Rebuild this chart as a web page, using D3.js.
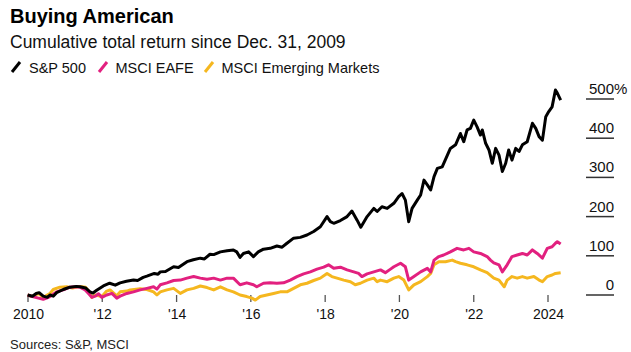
<!DOCTYPE html>
<html>
<head>
<meta charset="utf-8">
<script src="https://cdn.jsdelivr.net/npm/d3@7"></script>
<style>
  body { margin: 0; background: #fff; }
  svg { display: block; font-family: "Liberation Sans", Arial, sans-serif; }
  .axis text { font-family: "Liberation Sans", Arial, sans-serif; fill: #111; }
  .x-axis text { font-size: 14px; }
  .y-axis text { font-size: 15px; }
</style>
</head>
<body>
<div id="chart"></div>
<script>
// series names + colours (legend order)
var seriesNames = ["S&P 500", "MSCI EAFE", "MSCI Emerging Markets"];
var seriesColors = ["#000000", "#e2207f", "#f5b71f"];

// cumulative total return (%); dates as decimal years
var spYears = [2009.99,2010.12,2010.22,2010.3,2010.41,2010.52,2010.59,2010.68,2010.77,2010.95,2011.13,2011.3,2011.4,2011.55,2011.67,2011.75,2011.85,2012.03,2012.2,2012.35,2012.48,2012.65,2012.84,2012.95,2013.1,2013.2,2013.4,2013.5,2013.56,2013.7,2013.92,2014.05,2014.28,2014.45,2014.64,2014.75,2014.9,2015.0,2015.18,2015.36,2015.53,2015.62,2015.71,2015.8,2015.94,2016.07,2016.2,2016.34,2016.52,2016.7,2016.84,2016.97,2017.15,2017.33,2017.51,2017.69,2017.87,2018.05,2018.14,2018.23,2018.41,2018.59,2018.72,2018.86,2018.96,2019.13,2019.31,2019.4,2019.53,2019.67,2019.85,2019.98,2020.07,2020.16,2020.25,2020.34,2020.48,2020.57,2020.66,2020.75,2020.84,2020.93,2021.02,2021.15,2021.29,2021.37,2021.51,2021.64,2021.73,2021.82,2021.91,2022.0,2022.09,2022.18,2022.23,2022.32,2022.41,2022.5,2022.59,2022.68,2022.77,2022.86,2022.94,2023.03,2023.13,2023.22,2023.31,2023.44,2023.58,2023.67,2023.76,2023.85,2023.94,2024.02,2024.11,2024.2,2024.25,2024.34];
var spValues = [0,-3,4,6,-3,-6,0,-3,6,14,20,22,21,18,8,5,12,23,30,25,31,35,38,37,45,48,55,53,59,60,72,70,85,90,94,92,104,103,110,113,115,110,96,106,110,98,110,117,119,125,122,132,145,147,153,162,174,200,187,183,190,200,214,191,173,200,221,213,225,221,234,251,259,242,187,221,242,255,293,281,268,302,323,327,357,374,383,412,391,421,425,446,429,408,421,387,370,336,374,357,315,336,370,344,374,366,383,391,438,425,404,395,455,468,480,523,515,497];

var eafeYears = [2009.99,2010.12,2010.28,2010.41,2010.5,2010.59,2010.77,2010.95,2011.13,2011.27,2011.4,2011.54,2011.63,2011.72,2011.81,2011.9,2011.99,2012.12,2012.26,2012.39,2012.48,2012.66,2012.84,2013.02,2013.2,2013.38,2013.47,2013.56,2013.74,2013.92,2014.1,2014.28,2014.46,2014.64,2014.82,2015.0,2015.18,2015.36,2015.53,2015.71,2015.89,2016.07,2016.16,2016.34,2016.52,2016.7,2016.88,2017.06,2017.24,2017.42,2017.6,2017.78,2017.96,2018.09,2018.23,2018.41,2018.59,2018.77,2018.9,2018.99,2019.13,2019.31,2019.49,2019.62,2019.76,2019.85,2020.03,2020.16,2020.25,2020.39,2020.57,2020.75,2020.84,2020.93,2021.06,2021.19,2021.37,2021.55,2021.73,2021.87,2022.0,2022.18,2022.36,2022.45,2022.54,2022.68,2022.77,2022.9,2023.03,2023.17,2023.31,2023.44,2023.58,2023.71,2023.85,2023.98,2024.11,2024.2,2024.25,2024.34];
var eafeValues = [0,-4,-8,-11,-8,-4,8,13,20,21,20,13,4,-6,-3,3,-6,0,4,-8,-3,4,8,13,17,21,15,26,31,37,38,43,47,43,40,43,38,43,43,26,31,26,21,30,31,30,31,38,47,54,59,66,71,77,68,71,64,59,55,47,54,59,64,57,66,72,81,72,38,47,59,68,59,89,98,102,110,119,115,119,110,106,98,89,82,77,59,77,98,102,106,102,115,106,94,119,123,132,136,130];

var emYears = [2009.99,2010.12,2010.28,2010.41,2010.59,2010.68,2010.86,2011.04,2011.2,2011.4,2011.55,2011.65,2011.72,2011.81,2011.99,2012.12,2012.21,2012.39,2012.48,2012.66,2012.75,2013.02,2013.2,2013.38,2013.47,2013.56,2013.74,2013.92,2014.1,2014.28,2014.46,2014.64,2014.82,2015.0,2015.18,2015.36,2015.53,2015.71,2015.89,2016.03,2016.12,2016.25,2016.43,2016.61,2016.79,2016.97,2017.15,2017.33,2017.51,2017.69,2017.87,2018.05,2018.18,2018.32,2018.5,2018.68,2018.81,2018.95,2019.13,2019.31,2019.4,2019.49,2019.67,2019.85,2019.98,2020.12,2020.25,2020.39,2020.57,2020.75,2020.84,2020.93,2021.06,2021.24,2021.42,2021.51,2021.64,2021.82,2022.0,2022.18,2022.36,2022.54,2022.68,2022.82,2022.9,2023.03,2023.17,2023.31,2023.44,2023.62,2023.76,2023.85,2023.98,2024.11,2024.2,2024.34];
var emValues = [0,-4,4,-6,4,14,20,21,18,22,20,8,-6,0,-4,10,13,-2,8,10,13,16,14,8,0,8,13,17,4,13,17,23,19,13,21,13,8,0,-4,-8,-13,-4,0,4,8,8,17,26,30,37,43,55,47,43,38,34,26,30,38,43,34,38,34,43,47,38,13,26,34,47,55,77,85,85,89,85,81,77,72,64,57,43,38,21,38,47,43,47,43,47,38,34,47,51,55,57];

// axis ticks
var xTickYears = [2010, 2012, 2014, 2016, 2018, 2020, 2022, 2024];
var xTickLabels = ["2010", "'12", "'14", "'16", "'18", "'20", "'22", "2024"];
var yTickValues = [0, 100, 200, 300, 400, 500];

function yearToDate(y) {
    var yr = Math.floor(y);
    var start = new Date(yr, 0, 1), end = new Date(yr + 1, 0, 1);
    return new Date(+start + (y - yr) * (end - start));
}

var seriesData = [
    { name: seriesNames[0], color: seriesColors[0], values: spYears.map(function(d, i){ return { date: yearToDate(d), value: spValues[i] }; }) },
    { name: seriesNames[1], color: seriesColors[1], values: eafeYears.map(function(d, i){ return { date: yearToDate(d), value: eafeValues[i] }; }) },
    { name: seriesNames[2], color: seriesColors[2], values: emYears.map(function(d, i){ return { date: yearToDate(d), value: emValues[i] }; }) }
];

var width = 631, height = 352;

var svg = d3.select("#chart").append("svg")
    .attr("width", width)
    .attr("height", height);

// title block
svg.append("text")
    .attr("x", 10).attr("y", 23)
    .style("font-size", "20px").style("font-weight", "bold")
    .text("Buying American");

svg.append("text")
    .attr("x", 10).attr("y", 47.5)
    .style("font-size", "17.5px").style("fill", "#111")
    .text("Cumulative total return since Dec. 31, 2009");

// legend
var legendX = [11, 98, 204];
var legend = svg.selectAll(".legend")
    .data(seriesData)
    .enter().append("g")
    .attr("class", "legend")
    .attr("transform", function(d, i){ return "translate(" + legendX[i] + ",0)"; });

legend.append("line")
    .attr("x1", 1).attr("y1", 72)
    .attr("x2", 9).attr("y2", 62)
    .style("stroke", function(d){ return d.color; })
    .style("stroke-width", 3);

legend.append("text")
    .attr("x", function(d, i){ return i == 0 ? 18 : 17.5; })
    .attr("y", 73)
    .style("font-size", "14.5px").style("fill", "#111")
    .text(function(d){ return d.name; });

// scales
var x = d3.scaleTime()
    .domain([new Date(2010, 0, 1), new Date(2024, 0, 1)])
    .range([28, 548]);

var y = d3.scaleLinear()
    .domain([0, 500])
    .range([295, 99]);

// x axis (labels from d3, tick marks drawn as thin rects)
var xAxis = d3.axisBottom(x)
    .tickValues(xTickYears.map(function(d){ return new Date(d, 0, 1); }))
    .tickFormat(function(d, i){ return xTickLabels[i]; })
    .tickSize(7)
    .tickPadding(7);

var xG = svg.append("g")
    .attr("class", "x-axis axis")
    .attr("transform", "translate(0,295)")
    .call(xAxis)
    .call(function(g){ g.select(".domain").remove(); });

xG.selectAll(".tick line").remove();

svg.append("g").selectAll("rect")
    .data(xTickYears)
    .enter().append("rect")
    .attr("x", function(d){ return x(new Date(d, 0, 1)) - 0.65; })
    .attr("y", y(0))
    .attr("width", 1.3)
    .attr("height", 7)
    .style("fill", "#555");

// y axis on the right, short rules under each label
var yAxis = d3.axisRight(y)
    .tickValues(yTickValues)
    .tickSize(0)
    .tickFormat(function(d){ return d; });

var yG = svg.append("g")
    .attr("class", "y-axis axis")
    .attr("transform", "translate(586,0)")
    .call(yAxis)
    .call(function(g){ g.select(".domain").remove(); });

yG.selectAll(".tick text")
    .attr("x", 28)
    .attr("dy", -5.5)
    .attr("text-anchor", "end");

yG.selectAll(".tick")
    .filter(function(d){ return d == 500; })
    .append("text")
    .attr("x", 28)
    .attr("dy", -5.5)
    .attr("text-anchor", "start")
    .text("%");

svg.append("g").selectAll("rect")
    .data(yTickValues)
    .enter().append("rect")
    .attr("x", 586)
    .attr("y", function(d){ return y(d) - 0.75; })
    .attr("width", 28)
    .attr("height", 1.5)
    .style("fill", "#333");

// lines, drawn bottom to top: EM, EAFE, S&P
var line = d3.line()
    .x(function(d){ return x(d.date); })
    .y(function(d){ return y(d.value); });

svg.selectAll(".series")
    .data(seriesData.slice().reverse())
    .enter().append("path")
    .attr("class", "series")
    .attr("d", function(d){ return line(d.values); })
    .style("fill", "none")
    .style("stroke", function(d){ return d.color; })
    .style("stroke-width", 3)
    .style("stroke-linejoin", "round");

// source note
svg.append("text")
    .attr("x", 10).attr("y", 349)
    .style("font-size", "13px").style("fill", "#222")
    .text("Sources: S&P, MSCI");
</script>
</body>
</html>
